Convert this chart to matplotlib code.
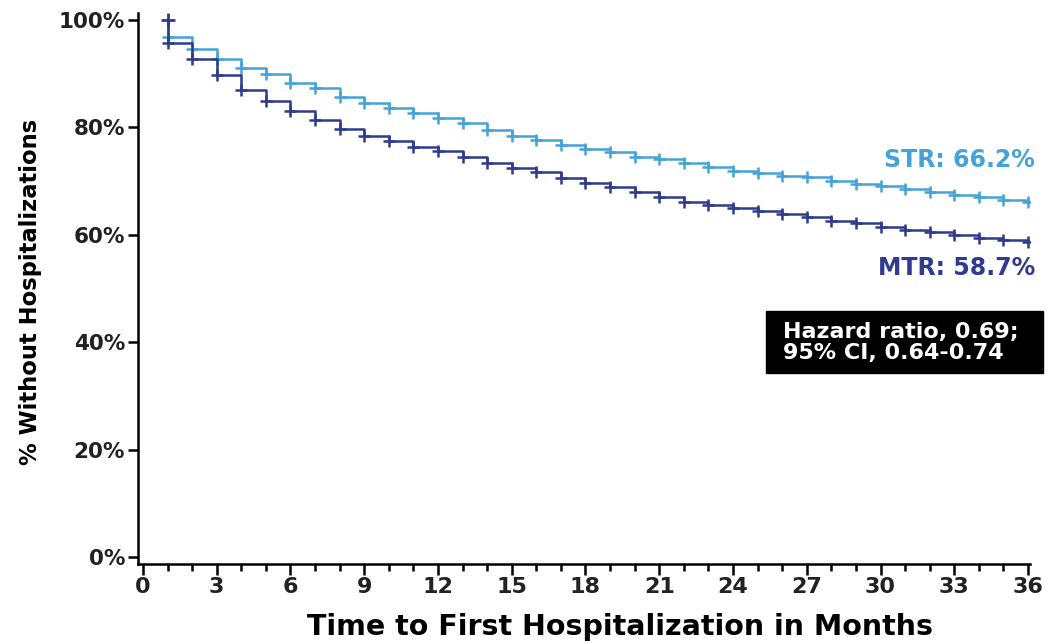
import matplotlib.pyplot as plt
from matplotlib.patches import Rectangle
from matplotlib.ticker import MultipleLocator, FuncFormatter

plt.rcParams['font.family'] = ['DejaVu Sans']

months = list(range(1, 37))
str_pct = [96.8, 94.6, 92.7, 91.0, 89.9, 88.3, 87.3, 85.7, 84.5, 83.6,
           82.7, 81.8, 80.8, 79.5, 78.4, 77.7, 76.7, 76.0, 75.4, 74.5,
           74.1, 73.4, 72.6, 71.9, 71.6, 71.0, 70.7, 70.0, 69.5, 69.1,
           68.5, 68.0, 67.4, 67.0, 66.4, 66.2]
mtr_pct = [95.8, 92.7, 89.8, 87.0, 85.0, 83.1, 81.4, 79.7, 78.4, 77.5,
           76.4, 75.6, 74.5, 73.4, 72.4, 71.7, 70.6, 69.6, 68.9, 68.0,
           67.1, 66.1, 65.5, 64.9, 64.5, 63.9, 63.3, 62.6, 62.2, 61.5,
           60.9, 60.5, 60.0, 59.4, 59.1, 58.7]

str_color = '#45a3d8'
mtr_color = '#2f3b8e'

fig = plt.figure(figsize=(10.49, 6.44), dpi=100)
ax = fig.add_axes([0.1311, 0.1242, 0.8508, 0.8556])

for vals, col in [(str_pct, str_color), (mtr_pct, mtr_color)]:
    xs = [months[0]] + months
    ys = [100] + vals
    ax.step(xs, ys, where='post', color=col, lw=1.8)
    ax.plot(months, vals, ls='none', marker='+', ms=9, mew=1.8, color=col)
ax.plot([months[0]], [100], ls='none', marker='+', ms=10, mew=2.0, color=mtr_color)

ax.set_xlim(-0.22, 36.08)
ax.set_ylim(-1.3, 101.3)
ax.xaxis.set_major_locator(MultipleLocator(3))
ax.xaxis.set_minor_locator(MultipleLocator(1))
ax.set_yticks([0, 20, 40, 60, 80, 100])
ax.yaxis.set_major_formatter(FuncFormatter(lambda v, p: f'{v:.0f}%'))

for s in ['top', 'right']:
    ax.spines[s].set_visible(False)
for s in ['left', 'bottom']:
    ax.spines[s].set_linewidth(1.8)

ax.tick_params(axis='x', which='major', length=8, width=1.8, labelsize=16, pad=1)
ax.tick_params(axis='x', which='minor', length=5, width=1.8)
ax.tick_params(axis='y', length=7, width=1.8, labelsize=15.5, pad=2)
for lab in ax.get_xticklabels() + ax.get_yticklabels():
    lab.set_fontweight('bold')
    lab.set_color('#222222')

ax.set_xlabel('Time to First Hospitalization in Months', fontsize=20.5,
              fontweight='bold')
ax.set_ylabel('% Without Hospitalizations', fontsize=16.3,
              fontweight='bold')
ax.xaxis.set_label_coords(0.541, -0.089)
ax.yaxis.set_label_coords(-0.107, 0.494)

ax.text(36.29, 73.9, f'STR: {str_pct[-1]:.1f}%', color=str_color, fontsize=17,
        fontweight='bold', ha='right', va='center')
ax.text(36.29, 53.8, f'MTR: {mtr_pct[-1]:.1f}%', color=mtr_color, fontsize=17,
        fontweight='bold', ha='right', va='center')

# hazard ratio box
ax.add_patch(Rectangle((25.35, 34.3), 11.27, 11.5, fc='black', ec='black',
                       clip_on=False, zorder=3))
ax.text(26.05, 40.0, 'Hazard ratio, 0.69;\n95% CI, 0.64-0.74', color='white',
        fontsize=16, fontweight='bold', ha='left', va='center',
        linespacing=1.08, zorder=4)

fig.savefig('out.png', dpi=100)
